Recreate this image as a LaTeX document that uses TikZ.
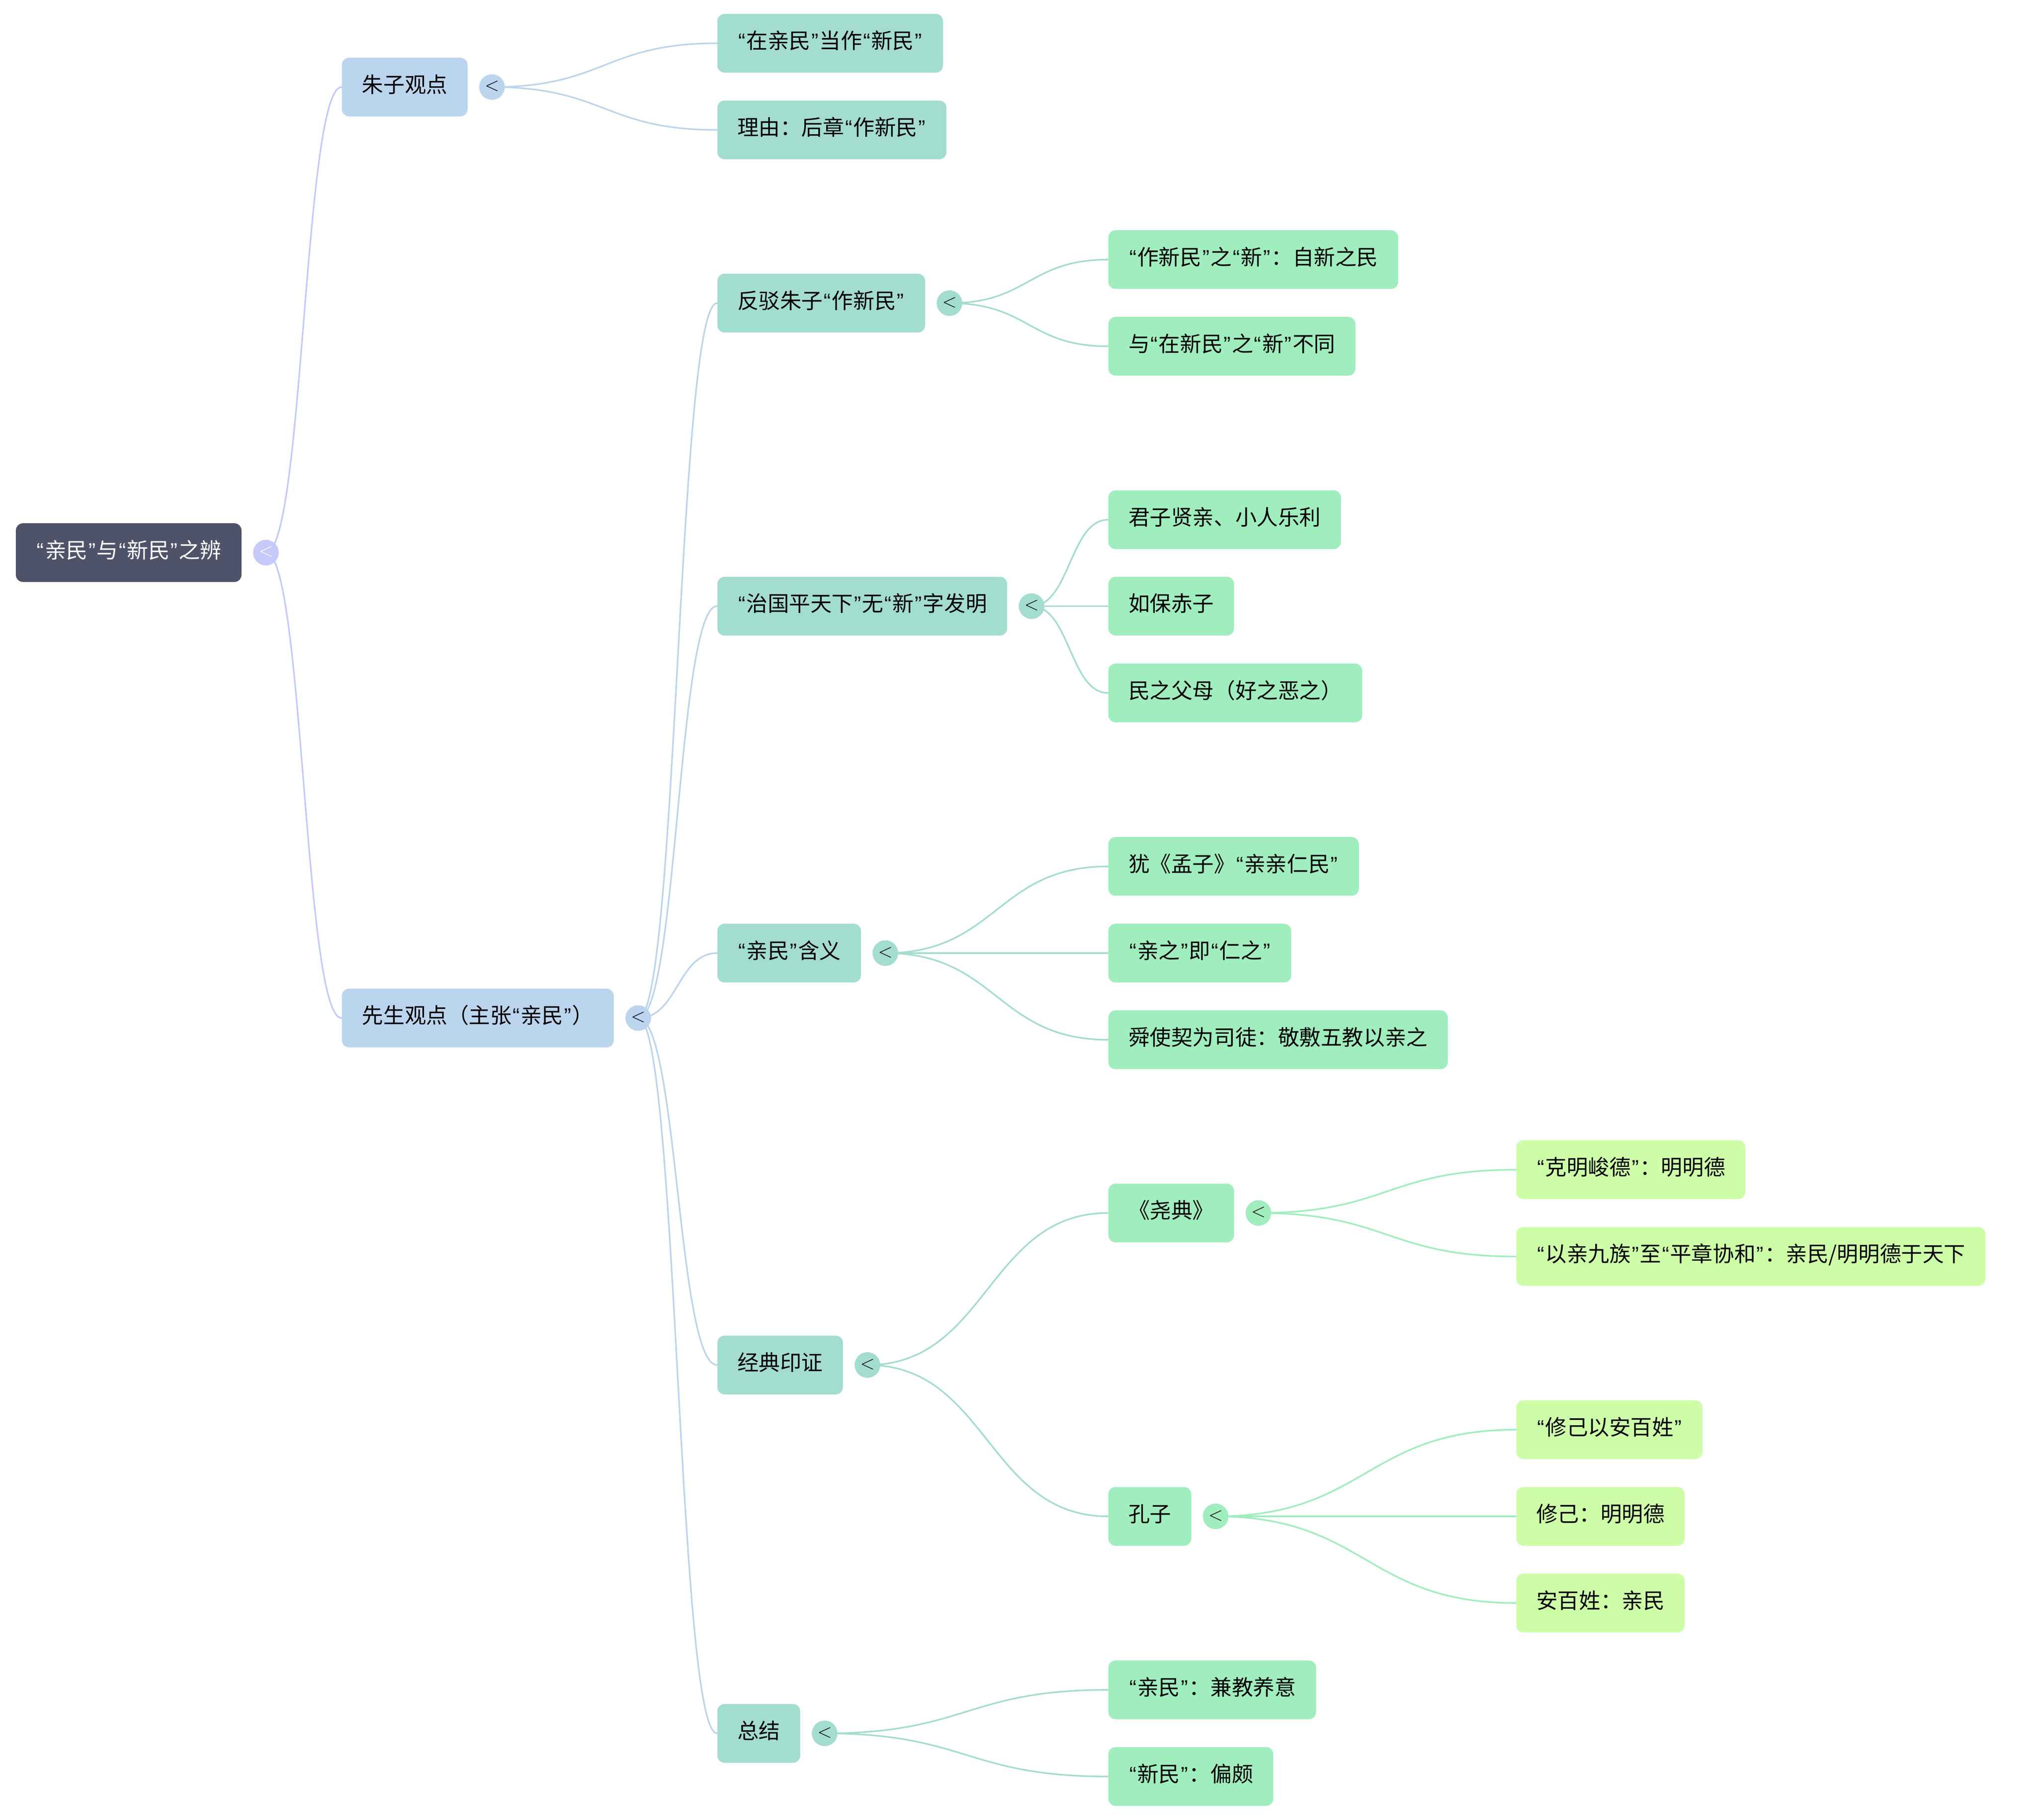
\documentclass[tikz,border=0pt]{standalone}
\usepackage{fontspec}
\setmainfont{Noto Sans CJK SC}
\newfontfamily\qf{Liberation Sans}
\usetikzlibrary{calc}
\pgfdeclarelayer{bg}
\pgfsetlayers{bg,main}
\definecolor{rootfill}{RGB}{79,83,105}
\definecolor{rootcirc}{RGB}{197,202,251}
\definecolor{lvA}{RGB}{188,213,238}
\definecolor{lvB}{RGB}{163,221,207}
\definecolor{lvC}{RGB}{160,237,190}
\definecolor{lvD}{RGB}{205,254,167}
\newcommand\myoq{{\qf\kern0.7pt“\kern0.7pt}}
\newcommand\mycq{{\qf\kern0.7pt”\kern0.7pt}}
\newcommand\quo[1]{\myoq#1\mycq}
\newcommand\chev{\raisebox{1.5pt}{$<$}}
\tikzset{
  box/.style={anchor=west, rounded corners=5.5pt, inner xsep=15.2pt, inner ysep=0pt,
    minimum height=44.5pt, text height=12pt, text depth=3.8pt,
    text=black, font=\fontsize{16.2}{20}\selectfont},
  rootbox/.style={box, fill=rootfill, text=white},
  boxA/.style={box, fill=lvA},
  boxB/.style={box, fill=lvB},
  boxC/.style={box, fill=lvC},
  boxD/.style={box, fill=lvD},
  circ/.style={circle, minimum size=19.4pt, inner sep=0pt, font=\fontsize{14.5}{14.5}\selectfont, text=black},
  link/.style={line width=1.2pt, line cap=round},
}
\newcommand\conn[3]{%
  \draw[link, #1] let \p1=(#2.center), \p2=(#3.west) in
    (\p1) .. controls ({0.5*\x1+0.5*\x2},\y1) and ({0.5*\x1+0.5*\x2},\y2) .. (\p2);%
}
\newcommand\hcirc[3]{\node[circ, fill=#1] (c#2) at ($(#2.east)+(18.6,0)$) {#3};}
\begin{document}
\begin{tikzpicture}[x=0.9843pt,y=-0.9843pt]
\useasboundingbox (0,0) rectangle (1567.3,1400.6);
% root
\node[rootbox] (root) at (12,425.3) {\quo{亲民}与\quo{新民}之辨};
\hcirc{rootcirc}{root}{\color{white}\chev}
% level 1
\node[boxA] (n1) at (263,67) {朱子观点};
\hcirc{lvA}{n1}{\chev}
\node[boxA] (n2) at (263,783.5) {先生观点（主张\quo{亲民}）};
\hcirc{lvA}{n2}{\chev}
% level 2
\node[boxB] (a1) at (552,33.3) {\quo{在亲民}当作\quo{新民}};
\node[boxB] (a2) at (552,100) {理由：后章\quo{作新民}};
\node[boxB] (b1) at (552,233.3) {反驳朱子\quo{作新民}};
\hcirc{lvB}{b1}{\chev}
\node[boxB] (b2) at (552,466.5) {\quo{治国平天下}无\quo{新}字发明};
\hcirc{lvB}{b2}{\chev}
\node[boxB] (b3) at (552,733.5) {\quo{亲民}含义};
\hcirc{lvB}{b3}{\chev}
\node[boxB] (b4) at (552,1050.5) {经典印证};
\hcirc{lvB}{b4}{\chev}
\node[boxB] (b5) at (552,1334) {总结};
\hcirc{lvB}{b5}{\chev}
% level 3
\node[boxC] (c11) at (853,199.8) {\quo{作新民}之\quo{新}：自新之民};
\node[boxC] (c12) at (853,266.5) {与\quo{在新民}之\quo{新}不同};
\node[boxC] (c21) at (853,400) {君子贤亲、小人乐利};
\node[boxC] (c22) at (853,466.5) {如保赤子};
\node[boxC] (c23) at (853,533.3) {民之父母（好之恶之）};
\node[boxC] (c31) at (853,666.8) {犹《孟子》\quo{亲亲仁民}};
\node[boxC] (c32) at (853,733.5) {\quo{亲之}即\quo{仁之}};
\node[boxC] (c33) at (853,800.2) {舜使契为司徒：敬敷五教以亲之};
\node[boxC] (c41) at (853,933.5) {《尧典》};
\hcirc{lvC}{c41}{\chev}
\node[boxC] (c42) at (853,1167) {孔子};
\hcirc{lvC}{c42}{\chev}
\node[boxC] (c51) at (853,1300.5) {\quo{亲民}：兼教养意};
\node[boxC] (c52) at (853,1367.2) {\quo{新民}：偏颇};
% level 4
\node[boxD] (d11) at (1167,900.2) {\quo{克明峻德}：明明德};
\node[boxD] (d12) at (1167,967) {\quo{以亲九族}至\quo{平章协和}：亲民/明明德于天下};
\node[boxD] (d21) at (1167,1100.3) {\quo{修己以安百姓}};
\node[boxD] (d22) at (1167,1167) {修己：明明德};
\node[boxD] (d23) at (1167,1233.7) {安百姓：亲民};
% connectors
\begin{pgfonlayer}{bg}
\conn{rootcirc}{croot}{n1}
\conn{rootcirc}{croot}{n2}
\conn{lvA}{cn1}{a1}
\conn{lvA}{cn1}{a2}
\conn{lvA}{cn2}{b1}
\conn{lvA}{cn2}{b2}
\conn{lvA}{cn2}{b3}
\conn{lvA}{cn2}{b4}
\conn{lvA}{cn2}{b5}
\conn{lvB}{cb1}{c11}
\conn{lvB}{cb1}{c12}
\conn{lvB}{cb2}{c21}
\conn{lvB}{cb2}{c22}
\conn{lvB}{cb2}{c23}
\conn{lvB}{cb3}{c31}
\conn{lvB}{cb3}{c32}
\conn{lvB}{cb3}{c33}
\conn{lvB}{cb4}{c41}
\conn{lvB}{cb4}{c42}
\conn{lvB}{cb5}{c51}
\conn{lvB}{cb5}{c52}
\conn{lvC}{cc41}{d11}
\conn{lvC}{cc41}{d12}
\conn{lvC}{cc42}{d21}
\conn{lvC}{cc42}{d22}
\conn{lvC}{cc42}{d23}
\end{pgfonlayer}
\end{tikzpicture}
\end{document}
